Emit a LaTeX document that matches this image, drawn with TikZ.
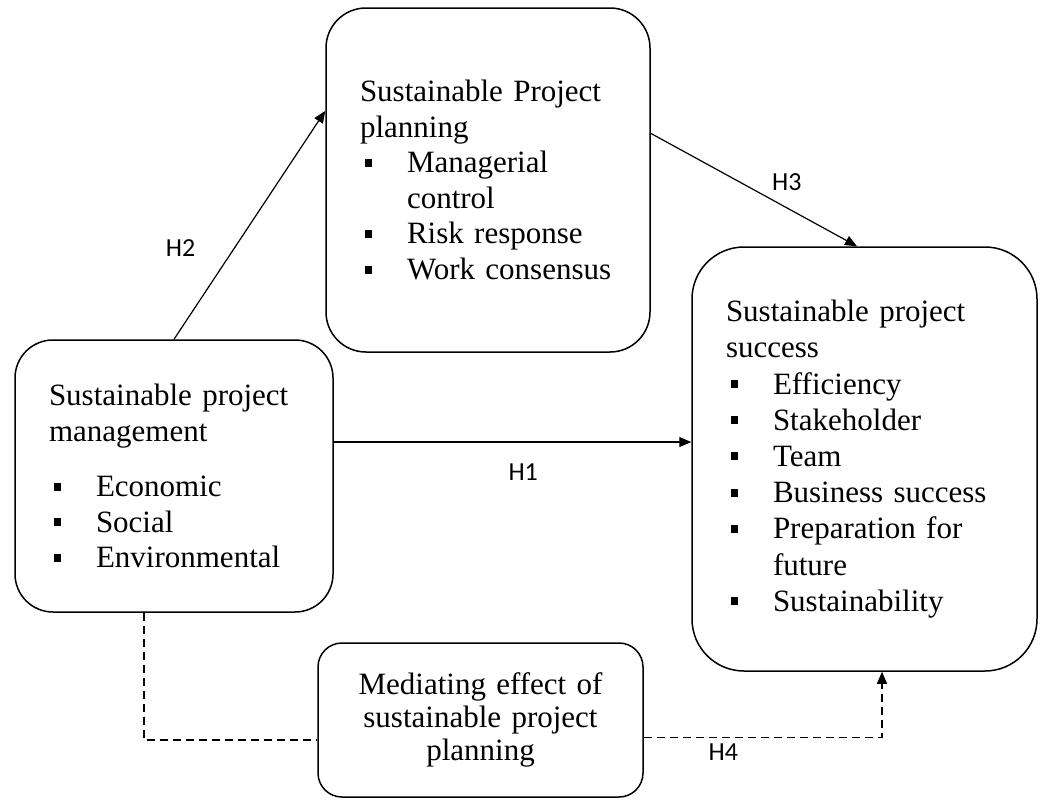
\documentclass[tikz,border=0pt]{standalone}
\usepackage{fontspec}
\setmainfont{Liberation Serif}
\newfontfamily\hypfont{Carlito}
\usetikzlibrary{arrows.meta,calc}
\newcommand{\sqb}{\makebox[23.5pt][l]{\hspace{2.5pt}\rule[3pt]{3.5pt}{4pt}}}
\newcommand{\ind}{\hspace*{23.5pt}}

\begin{document}
\begin{tikzpicture}[x=0.5pt,y=-0.5pt,->,>={Triangle[length=6pt,width=5pt]},line width=0.6pt,main node/.style={draw,line width=0.75pt,align=left,inner xsep=17pt,inner ysep=0pt,font=\fontsize{15.5}{17.8}\selectfont},hyp/.style={font=\hypfont\fontsize{13}{15}\selectfont}]
                        \useasboundingbox (0,0) rectangle (1040,799);

                        \node[main node,rounded corners=20pt,text width=128pt,minimum height=172pt] (plan) at (488,180) {Sustainable Project\\ planning\\ \sqb Managerial\\ \ind control\\ \sqb Risk response\\ \sqb Work consensus};
                        \node[main node,rounded corners=19pt,text width=125pt,minimum height=136pt] (mgmt) at (174,476) {Sustainable project\\ management\\[10pt] \sqb Economic\\ \sqb Social\\ \sqb Environmental};
                        \node[main node,rounded corners=26pt,text width=138.5pt,minimum height=212pt,font=\fontsize{15.5}{18.1}\selectfont] (succ) at (864.5,459) {Sustainable project\\ success\\ \sqb Efficiency\\ \sqb Stakeholder\\ \sqb Team\\ \sqb Business success\\ \sqb Preparation for\\ \ind future\\ \sqb Sustainability};
                        \node[main node,rounded corners=12pt,text width=128.5pt,minimum height=77pt,align=center,font=\fontsize{15.5}{16.5}\selectfont] (med) at (480.5,720) {Mediating effect of\\ sustainable project\\ planning};

                        \path
                            (mgmt.north) edge node[hyp,pos=0.4,xshift=-27pt] {H2} (plan.157)
                            (plan.16) edge node[hyp,pos=0.66,yshift=13pt] {H3} ($(succ.north)+(-7.5,0)$)
                            (mgmt.12) edge node[hyp,pos=0.53,yshift=-15pt] {H1} (mgmt.12 -| succ.west)
                        ;

                        \draw[-,dash pattern=on 4pt off 2.5pt] ($(mgmt.south)+(-30,0)$) |- (med.187);
                        \draw[dash pattern=on 4pt off 2.5pt] (med.354) -| node[hyp,pos=0.167,yshift=-7.5pt] {H4} ($(succ.south)+(17.5,0)$);

                    \end{tikzpicture}
\end{document}
